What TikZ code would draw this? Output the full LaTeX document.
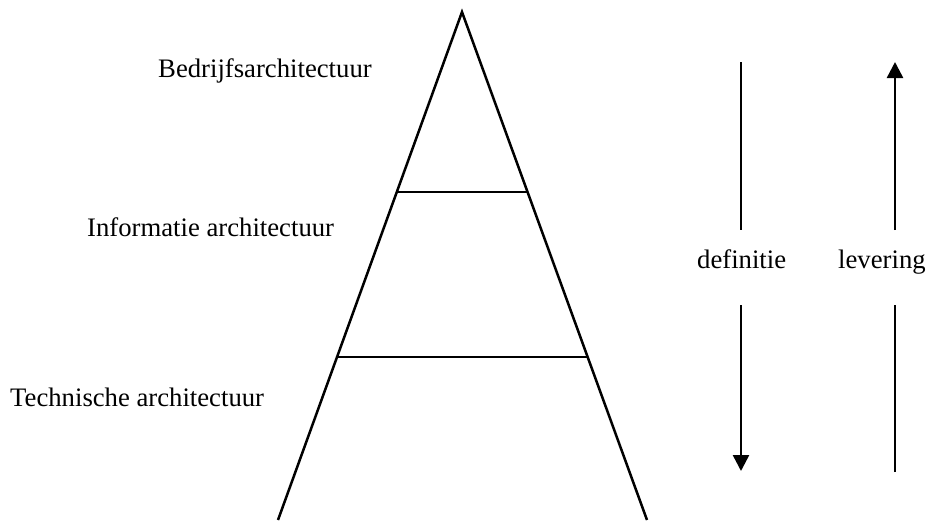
\documentclass[tikz,border=0pt]{standalone}
\usepackage{fontspec}
\setmainfont{Liberation Serif}
\usetikzlibrary{arrows.meta}
\begin{document}
\begin{tikzpicture}[x=1pt,y=-1pt,
  edge/.style={line width=2.5pt},
  lbl/.style={anchor=base west,inner sep=0pt,font=\fontsize{26.7}{32}\selectfont},
  tip/.style={-{Triangle[width=16pt,length=16pt]}}]
\useasboundingbox (0,0) rectangle (940,520);
\coordinate (apex) at (462,12);
\coordinate (bl) at (278,520);
\coordinate (br) at (647,520);
\draw[edge,line join=miter] (bl) -- (apex) -- (br);
\coordinate (l1) at (397,192);
\coordinate (r1) at (527,192);
\coordinate (l2) at (337,357);
\coordinate (r2) at (587,357);
\draw[edge] (l1) -- (r1);
\draw[edge] (l2) -- (r2);
\node[lbl] (bed) at (158,77) {Bedrijfsarchitectuur};
\node[lbl] (inf) at (87,236) {Informatie architectuur};
\node[lbl] (tec) at (10,406) {Technische architectuur};
\node[lbl] (def) at (697,268) {definitie};
\node[lbl] (lev) at (838,268) {levering};
\coordinate (d1) at (741,62);
\coordinate (d2) at (741,230);
\coordinate (d3) at (741,305);
\coordinate (d4) at (741,471);
\draw[edge] (d1) -- (d2);
\draw[edge,tip] (d3) -- (d4);
\coordinate (u1) at (895,472);
\coordinate (u2) at (895,305);
\coordinate (u3) at (895,230);
\coordinate (u4) at (895,62);
\draw[edge] (u1) -- (u2);
\draw[edge,tip] (u3) -- (u4);
\end{tikzpicture}
\end{document}
